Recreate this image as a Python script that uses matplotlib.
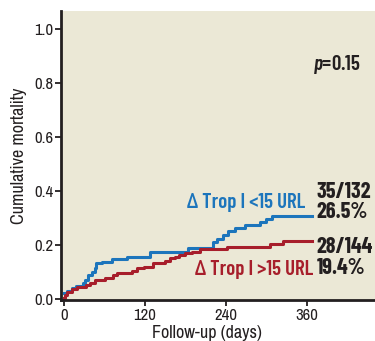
import numpy as np
import matplotlib
matplotlib.use('Agg')
from matplotlib import pyplot as plt

# Kaplan-Meier style curves
blue_days = [0, 4, 12, 17, 28, 31, 36, 41, 46, 48, 56, 71, 93, 127, 184, 221, 226, 236, 243, 253, 268, 290, 300, 308, 367]
blue_mort = [0.022, 0.03, 0.04, 0.048, 0.06, 0.07, 0.089, 0.10, 0.115, 0.133, 0.138, 0.147, 0.157, 0.173, 0.188, 0.212, 0.221, 0.237, 0.253, 0.262, 0.274, 0.286, 0.295, 0.307, 0.307]

red_days = [0, 1, 4, 12, 19, 33, 38, 46, 61, 73, 78, 100, 108, 118, 132, 150, 157, 164, 170, 179, 189, 201, 241, 305, 325, 367]
red_mort = [0.004, 0.015, 0.027, 0.036, 0.043, 0.052, 0.06, 0.07, 0.077, 0.089, 0.097, 0.105, 0.114, 0.12, 0.132, 0.142, 0.151, 0.157, 0.163, 0.169, 0.175, 0.184, 0.194, 0.204, 0.216, 0.216]

x_ticks = [0, 120, 240, 360]
y_ticks = [0.0, 0.2, 0.4, 0.6, 0.8, 1.0]

blue = '#1c75bc'
red = '#a71e2b'
dark = '#231f20'
bg = '#ebe8d6'

plt.rcParams['font.family'] = ['Archivo Narrow', 'DejaVu Sans']
plt.rcParams['mathtext.fontset'] = 'custom'
plt.rcParams['mathtext.it'] = 'Barlow Condensed:italic:semibold'
bold = ['Barlow Condensed', 'DejaVu Sans']

fig = plt.figure(figsize=(3.75, 3.41), dpi=100)
ax = fig.add_axes([0.163, 0.12, 0.837, 0.848])
ax.set_facecolor(bg)

ax.step(blue_days, blue_mort, where='post', color=blue, lw=2.2)
ax.step(red_days, red_mort, where='post', color=red, lw=2.2)

ax.set_xlim(-4.4, 461)
ax.set_ylim(-0.004, 1.067)
ax.set_xticks(x_ticks)
ax.set_xticklabels([str(t) for t in x_ticks])
ax.set_yticks(y_ticks)
ax.set_yticklabels(['%.1f' % t for t in y_ticks])

for s in ['top', 'right']:
    ax.spines[s].set_visible(False)
for s in ['left', 'bottom']:
    ax.spines[s].set_linewidth(2)
    ax.spines[s].set_color(dark)
ax.tick_params(axis='both', length=4, width=1.3, color=dark, labelsize=12, labelcolor=dark, pad=1.5)

ax.set_ylabel('Cumulative mortality', fontsize=13, color=dark)
ax.set_xlabel('Follow-up (days)', fontsize=13, color=dark)
ax.xaxis.set_label_coords(0.465, -0.085)
ax.yaxis.set_label_coords(-0.11, 0.5)

ax.text(440, 0.87, r'$p$=0.15', ha='right', va='center', fontsize=15, family=bold, fontweight='semibold', color=dark)

ax.text(357, 0.358, u'\u0394 Trop I <15 URL', ha='right', va='center', fontsize=15, family=bold, fontweight='semibold', color=blue)
ax.text(369, 0.11, u'\u0394 Trop I >15 URL', ha='right', va='center', fontsize=15, family=bold, fontweight='semibold', color=red)

for yy, s in [(0.398, '35/132'), (0.324, '26.5%'), (0.194, '28/144'), (0.114, '19.4%')]:
    ax.text(374, yy, s, ha='left', va='center', fontsize=16, family=bold, fontweight='bold', color=dark)

fig.savefig('out.png', dpi=100)
